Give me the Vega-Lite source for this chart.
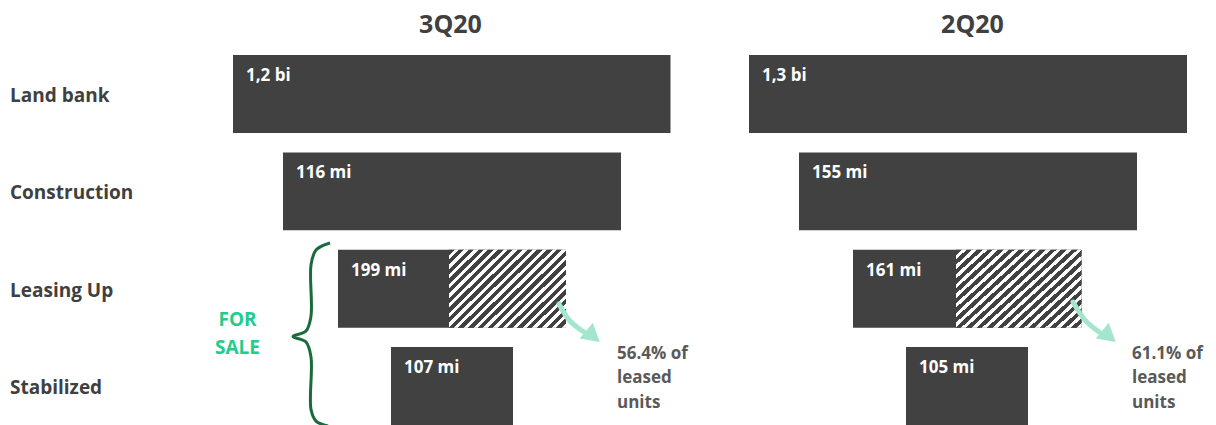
{
  "$schema": "https://vega.github.io/schema/vega-lite/v6.json",
  "autosize": {"type": "none"},
  "width": 1216,
  "height": 425,
  "padding": 0,
  "background": "#ffffff",
  "config": {"view": {"stroke": null}, "font": "Open Sans"},
  "datasets": {
    "bars": [
      {"quarter": "3Q20", "stage": "Land bank", "start": 233, "end": 670.5, "row": 0, "rowEnd": 0.8, "label": "1,2 bi"},
      {"quarter": "3Q20", "stage": "Construction", "start": 283, "end": 621, "row": 1, "rowEnd": 1.8, "label": "116 mi"},
      {"quarter": "3Q20", "stage": "Leasing Up", "start": 338, "end": 566, "row": 2, "rowEnd": 2.8, "label": "199 mi"},
      {"quarter": "3Q20", "stage": "Stabilized", "start": 391, "end": 513, "row": 3, "rowEnd": 3.8, "label": "107 mi"},
      {"quarter": "2Q20", "stage": "Land bank", "start": 749, "end": 1187, "row": 0, "rowEnd": 0.8, "label": "1,3 bi"},
      {"quarter": "2Q20", "stage": "Construction", "start": 799, "end": 1137, "row": 1, "rowEnd": 1.8, "label": "155 mi"},
      {"quarter": "2Q20", "stage": "Leasing Up", "start": 853, "end": 1081.5, "row": 2, "rowEnd": 2.8, "label": "161 mi"},
      {"quarter": "2Q20", "stage": "Stabilized", "start": 906, "end": 1028, "row": 3, "rowEnd": 3.8, "label": "105 mi"}
    ],
    "hatch": [
      {"quarter": "3Q20", "start": 449, "end": 566, "row": 2, "rowEnd": 2.8},
      {"quarter": "2Q20", "start": 956, "end": 1081.5, "row": 2, "rowEnd": 2.8}
    ],
    "stages": [
      {"stage": "Land bank", "row": 0},
      {"stage": "Construction", "row": 1},
      {"stage": "Leasing Up", "row": 2},
      {"stage": "Stabilized", "row": 3}
    ],
    "quarters": [
      {"quarter": "3Q20", "center": 450.5},
      {"quarter": "2Q20", "center": 972.5}
    ],
    "notes": [
      {"quarter": "3Q20", "pos": 617, "text": "56.4% of\nleased\nunits"},
      {"quarter": "2Q20", "pos": 1132, "text": "61.1% of\nleased\nunits"}
    ],
    "arrows": [
      {"quarter": "3Q20", "order": 1, "x": 559, "y": 2.557},
      {"quarter": "3Q20", "order": 2, "x": 570, "y": 2.732},
      {"quarter": "3Q20", "order": 3, "x": 584, "y": 2.845},
      {"quarter": "2Q20", "order": 1, "x": 1073, "y": 2.537},
      {"quarter": "2Q20", "order": 2, "x": 1085, "y": 2.722},
      {"quarter": "2Q20", "order": 3, "x": 1099, "y": 2.845}
    ],
    "heads": [
      {"quarter": "3Q20", "x": 593, "y": 2.89},
      {"quarter": "2Q20", "x": 1109, "y": 2.89}
    ],
    "brace": [
      {"order": 1, "x": 330, "y": 1.931},
      {"order": 2, "x": 316, "y": 2.003},
      {"order": 3, "x": 311, "y": 2.157},
      {"order": 4, "x": 311, "y": 2.681},
      {"order": 5, "x": 306, "y": 2.835},
      {"order": 6, "x": 293, "y": 2.891},
      {"order": 7, "x": 306, "y": 2.948},
      {"order": 8, "x": 311, "y": 3.102},
      {"order": 9, "x": 311, "y": 3.64},
      {"order": 10, "x": 316, "y": 3.76},
      {"order": 11, "x": 328, "y": 3.81}
    ],
    "bracket": [
      {"text": "FOR\nSALE", "x": 237.5}
    ]
  },
  "layer": [
    {
      "data": {"name": "bars"},
      "mark": {"type": "rect", "fill": "#414141"},
      "encoding": {
        "x": {"field": "start", "type": "quantitative", "scale": {"domain": [0, 1216], "zero": false, "nice": false}, "axis": null},
        "x2": {"field": "end"},
        "y": {"field": "row", "type": "quantitative", "scale": {"domain": [-0.565, 3.8], "zero": false, "nice": false, "reverse": true}, "axis": null},
        "y2": {"field": "rowEnd"}
      }
    },
    {
      "data": {"name": "hatch"},
      "mark": {
        "type": "rect",
        "fill": {
          "gradient": "linear", "x1": 0, "y1": 0, "x2": 1.1506, "y2": 0.777,
          "stops": [
            {"offset": 0, "color": "#414141"}, {"offset": 0.0275, "color": "#414141"}, {"offset": 0.0275, "color": "#ffffff"}, {"offset": 0.05, "color": "#ffffff"},
            {"offset": 0.05, "color": "#414141"}, {"offset": 0.0775, "color": "#414141"}, {"offset": 0.0775, "color": "#ffffff"}, {"offset": 0.1, "color": "#ffffff"},
            {"offset": 0.1, "color": "#414141"}, {"offset": 0.1275, "color": "#414141"}, {"offset": 0.1275, "color": "#ffffff"}, {"offset": 0.15, "color": "#ffffff"},
            {"offset": 0.15, "color": "#414141"}, {"offset": 0.1775, "color": "#414141"}, {"offset": 0.1775, "color": "#ffffff"}, {"offset": 0.2, "color": "#ffffff"},
            {"offset": 0.2, "color": "#414141"}, {"offset": 0.2275, "color": "#414141"}, {"offset": 0.2275, "color": "#ffffff"}, {"offset": 0.25, "color": "#ffffff"},
            {"offset": 0.25, "color": "#414141"}, {"offset": 0.2775, "color": "#414141"}, {"offset": 0.2775, "color": "#ffffff"}, {"offset": 0.3, "color": "#ffffff"},
            {"offset": 0.3, "color": "#414141"}, {"offset": 0.3275, "color": "#414141"}, {"offset": 0.3275, "color": "#ffffff"}, {"offset": 0.35, "color": "#ffffff"},
            {"offset": 0.35, "color": "#414141"}, {"offset": 0.3775, "color": "#414141"}, {"offset": 0.3775, "color": "#ffffff"}, {"offset": 0.4, "color": "#ffffff"},
            {"offset": 0.4, "color": "#414141"}, {"offset": 0.4275, "color": "#414141"}, {"offset": 0.4275, "color": "#ffffff"}, {"offset": 0.45, "color": "#ffffff"},
            {"offset": 0.45, "color": "#414141"}, {"offset": 0.4775, "color": "#414141"}, {"offset": 0.4775, "color": "#ffffff"}, {"offset": 0.5, "color": "#ffffff"},
            {"offset": 0.5, "color": "#414141"}, {"offset": 0.5275, "color": "#414141"}, {"offset": 0.5275, "color": "#ffffff"}, {"offset": 0.55, "color": "#ffffff"},
            {"offset": 0.55, "color": "#414141"}, {"offset": 0.5775, "color": "#414141"}, {"offset": 0.5775, "color": "#ffffff"}, {"offset": 0.6, "color": "#ffffff"},
            {"offset": 0.6, "color": "#414141"}, {"offset": 0.6275, "color": "#414141"}, {"offset": 0.6275, "color": "#ffffff"}, {"offset": 0.65, "color": "#ffffff"},
            {"offset": 0.65, "color": "#414141"}, {"offset": 0.6775, "color": "#414141"}, {"offset": 0.6775, "color": "#ffffff"}, {"offset": 0.7, "color": "#ffffff"},
            {"offset": 0.7, "color": "#414141"}, {"offset": 0.7275, "color": "#414141"}, {"offset": 0.7275, "color": "#ffffff"}, {"offset": 0.75, "color": "#ffffff"},
            {"offset": 0.75, "color": "#414141"}, {"offset": 0.7775, "color": "#414141"}, {"offset": 0.7775, "color": "#ffffff"}, {"offset": 0.8, "color": "#ffffff"},
            {"offset": 0.8, "color": "#414141"}, {"offset": 0.8275, "color": "#414141"}, {"offset": 0.8275, "color": "#ffffff"}, {"offset": 0.85, "color": "#ffffff"},
            {"offset": 0.85, "color": "#414141"}, {"offset": 0.8775, "color": "#414141"}, {"offset": 0.8775, "color": "#ffffff"}, {"offset": 0.9, "color": "#ffffff"},
            {"offset": 0.9, "color": "#414141"}, {"offset": 0.9275, "color": "#414141"}, {"offset": 0.9275, "color": "#ffffff"}, {"offset": 0.95, "color": "#ffffff"},
            {"offset": 0.95, "color": "#414141"}, {"offset": 0.9775, "color": "#414141"}, {"offset": 0.9775, "color": "#ffffff"}, {"offset": 1, "color": "#ffffff"}
          ]
        }
      },
      "encoding": {
        "x": {"field": "start", "type": "quantitative"},
        "x2": {"field": "end"},
        "y": {"field": "row", "type": "quantitative"},
        "y2": {"field": "rowEnd"}
      }
    },
    {
      "data": {"name": "bars"},
      "mark": {"type": "text", "align": "left", "baseline": "alphabetic", "dx": 13, "dy": 26, "fontSize": 17, "fontWeight": "bold", "color": "#ffffff"},
      "encoding": {
        "x": {"field": "start", "type": "quantitative"},
        "y": {"field": "row", "type": "quantitative"},
        "text": {"field": "label", "type": "nominal"}
      }
    },
    {
      "data": {"name": "stages"},
      "mark": {"type": "text", "align": "left", "baseline": "alphabetic", "dy": 47, "fontSize": 19, "fontWeight": "bold", "color": "#404040"},
      "encoding": {
        "x": {"datum": 10, "type": "quantitative"},
        "y": {"field": "row", "type": "quantitative"},
        "text": {"field": "stage", "type": "nominal"}
      }
    },
    {
      "data": {"name": "quarters"},
      "mark": {"type": "text", "align": "center", "baseline": "alphabetic", "fontSize": 25, "fontWeight": "bold", "color": "#404040"},
      "encoding": {
        "x": {"field": "center", "type": "quantitative"},
        "y": {"datum": -0.229, "type": "quantitative"},
        "text": {"field": "quarter", "type": "nominal"}
      }
    },
    {
      "data": {"name": "arrows"},
      "mark": {"type": "line", "color": "#a3e6cd", "strokeWidth": 5, "strokeCap": "round", "interpolate": "catmull-rom"},
      "encoding": {
        "x": {"field": "x", "type": "quantitative"},
        "y": {"field": "y", "type": "quantitative"},
        "detail": {"field": "quarter", "type": "nominal"},
        "order": {"field": "order", "type": "quantitative"}
      }
    },
    {
      "data": {"name": "heads"},
      "mark": {"type": "point", "shape": "triangle-right", "filled": true, "color": "#a3e6cd", "opacity": 1, "size": 420, "angle": 40},
      "encoding": {
        "x": {"field": "x", "type": "quantitative"},
        "y": {"field": "y", "type": "quantitative"}
      }
    },
    {
      "data": {"name": "notes"},
      "mark": {"type": "text", "align": "left", "baseline": "alphabetic", "lineBreak": "\n", "lineHeight": 24.5, "fontSize": 17, "fontWeight": "bold", "color": "#595959"},
      "encoding": {
        "x": {"field": "pos", "type": "quantitative"},
        "y": {"datum": 3.12, "type": "quantitative"},
        "text": {"field": "text", "type": "nominal"}
      }
    },
    {
      "data": {"name": "brace"},
      "mark": {"type": "line", "color": "#1a6b3c", "strokeWidth": 3, "interpolate": "catmull-rom"},
      "encoding": {
        "x": {"field": "x", "type": "quantitative"},
        "y": {"field": "y", "type": "quantitative"},
        "order": {"field": "order", "type": "quantitative"}
      }
    },
    {
      "data": {"name": "bracket"},
      "mark": {"type": "text", "align": "center", "baseline": "alphabetic", "lineBreak": "\n", "lineHeight": 28, "fontSize": 19, "fontWeight": "bold", "color": "#22cc8a"},
      "encoding": {
        "x": {"field": "x", "type": "quantitative"},
        "y": {"datum": 2.783, "type": "quantitative"},
        "text": {"field": "text", "type": "nominal"}
      }
    }
  ]
}
